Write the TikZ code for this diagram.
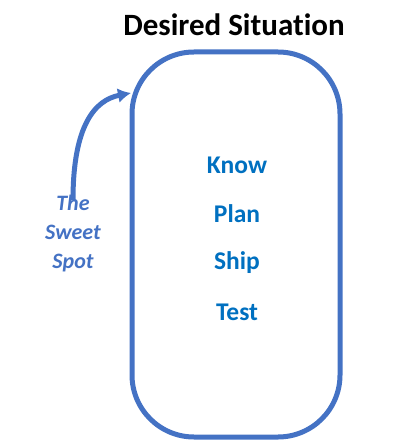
\documentclass[tikz,border=0pt]{standalone}
\usepackage{fontspec}
\setmainfont{Carlito}[Ligatures=NoCommon]
\usetikzlibrary{arrows.meta}
\definecolor{frame}{HTML}{4472C4}
\definecolor{step}{HTML}{0070C0}

\begin{document}
\begin{tikzpicture}[x=1pt,y=-1pt,
  steplabel/.style={text=step,font=\fontsize{25.5}{30}\selectfont\bfseries}]
\useasboundingbox (0,0) rectangle (402,443);
% title
\node[font=\fontsize{31}{36}\selectfont\bfseries] (title) at (234,25){Desired Situation};
% box
\node[draw=frame,line width=5pt,rounded corners=62pt,minimum width=208pt,minimum height=385pt] (situation) at (236,244.5){};
\node[steplabel] (know) at (237,165){Know};
\node[steplabel] (plan) at (237,214){Plan};
\node[steplabel] (ship) at (237,263){Ship};
\node[steplabel] (test) at (237,312){Test};
% sweet spot
\node[text=frame,align=center,font=\fontsize{22}{29}\selectfont\bfseries\itshape] (sweet) at (73,234){The\\Sweet\\Spot};
\coordinate (tip) at (131,93);
\draw[frame,line width=5pt,-{Latex[length=13pt,width=15pt]}] ([yshift=-8pt]sweet.north) .. controls (73,125) and (95,100) .. (tip);
\end{tikzpicture}
\end{document}
